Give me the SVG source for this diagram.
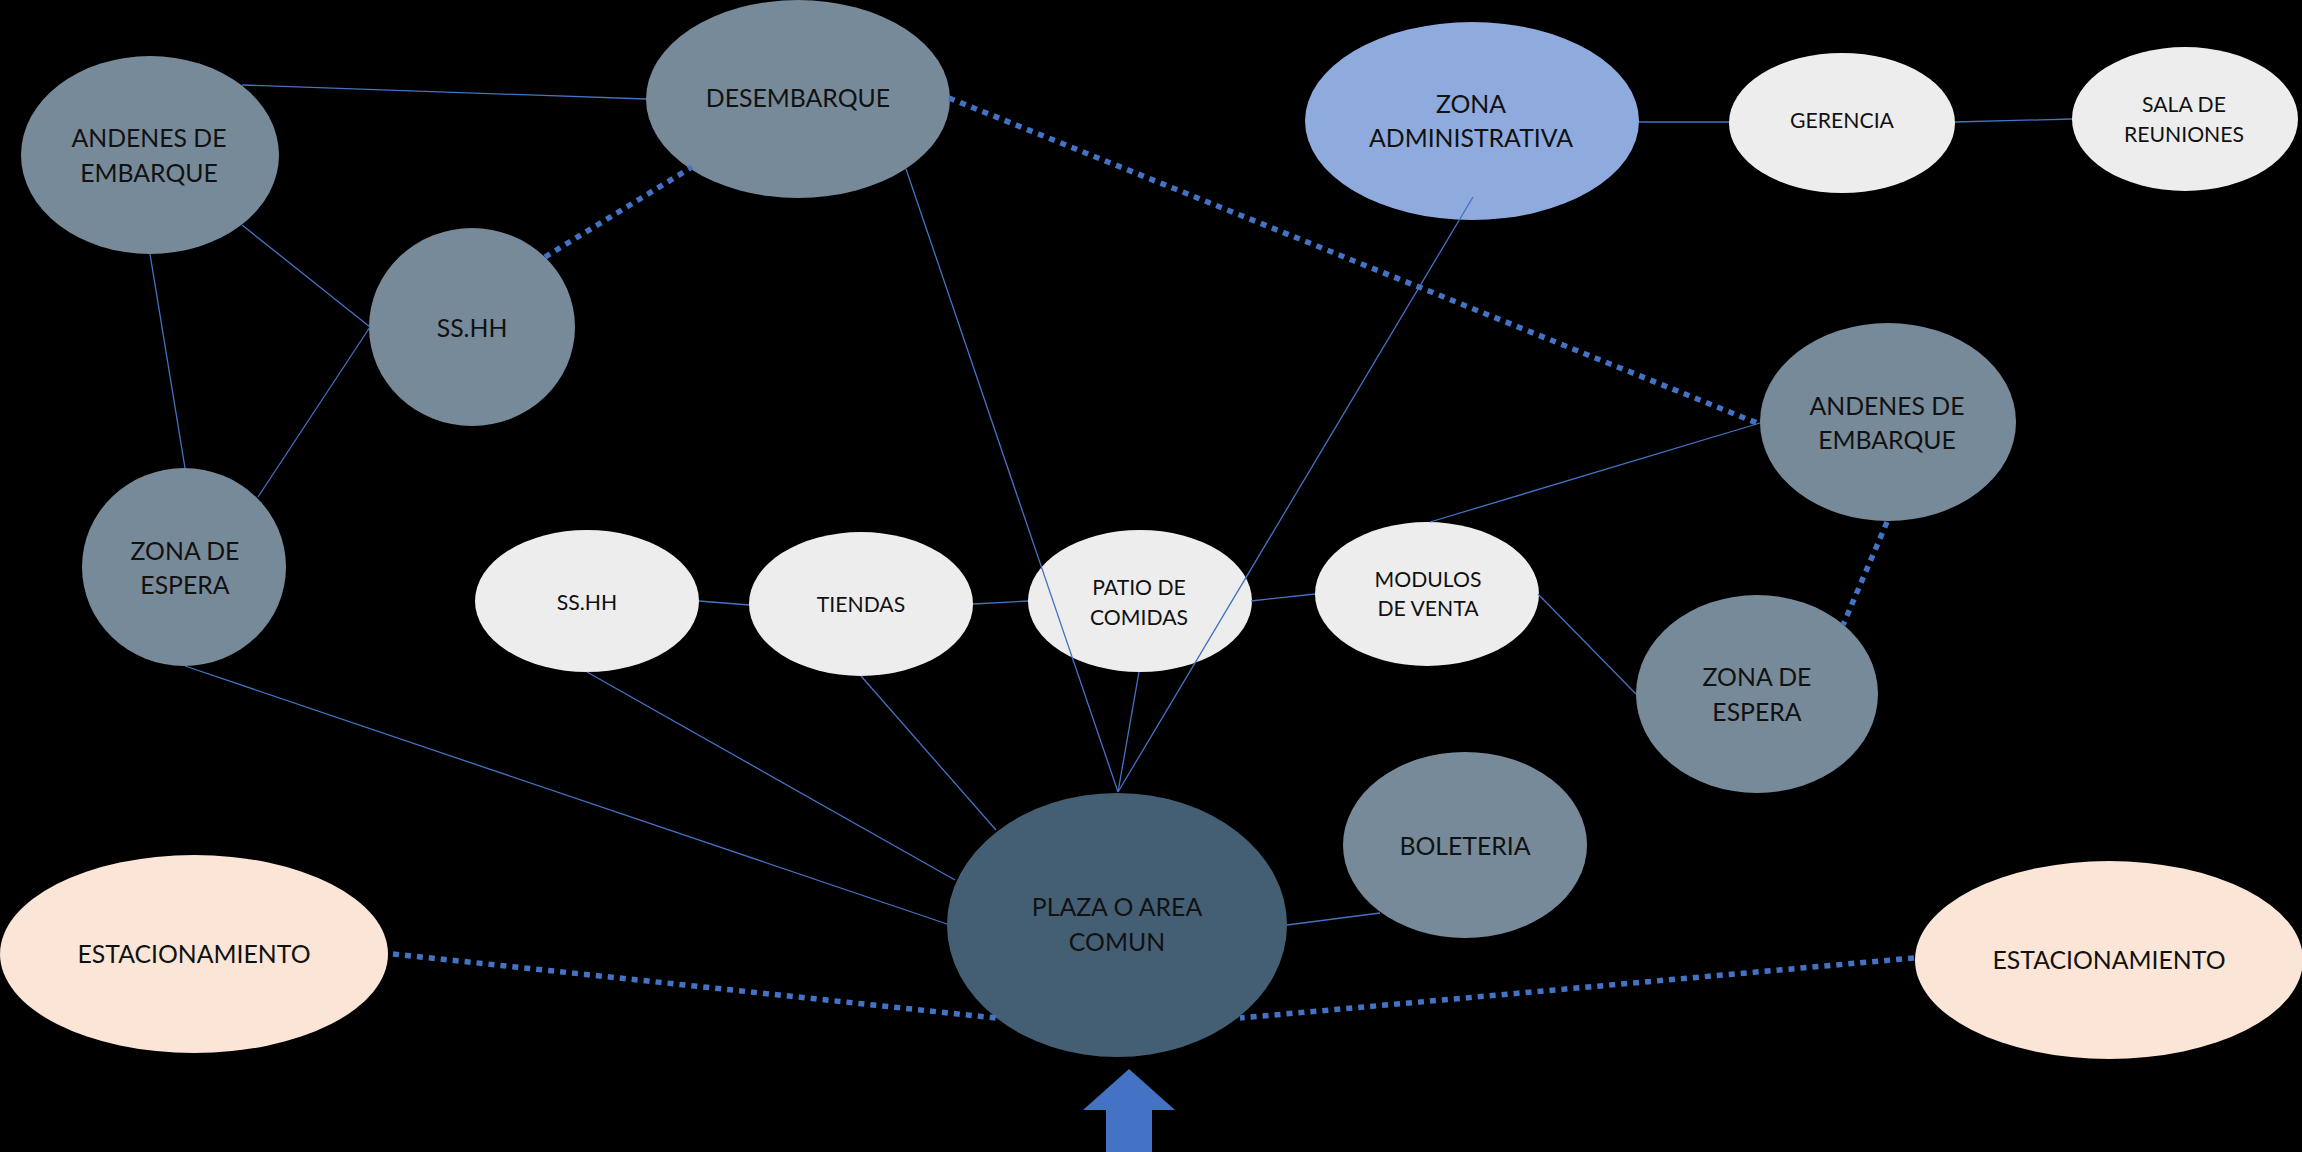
<svg xmlns="http://www.w3.org/2000/svg" width="2302" height="1152" viewBox="0 0 2302 1152">
<style>
.gray{fill:#778A99}
.dark{fill:#445F74}
.light{fill:#EDEDED}
.peach{fill:#FBE5D6}
.admin{fill:#8FAADC}
text{font-family:Lato,"Liberation Sans",sans-serif;fill:#111;text-anchor:middle}
.big{font-size:24.8px}
.small{font-size:21.2px}
.solid{stroke:#4472C4;stroke-width:1.3;fill:none}
.dot{stroke:#4472C4;stroke-width:5.5;stroke-dasharray:6 6;fill:none}
</style>
<rect width="2302" height="1152" fill="#000"/>
<g id="nodes">
<g id="andenes-izq"><ellipse class="gray" cx="150" cy="155" rx="129" ry="99"/><text class="big" x="149" y="147">ANDENES DE</text><text class="big" x="149" y="182">EMBARQUE</text></g>
<g id="sshh-gris"><ellipse class="gray" cx="472" cy="327" rx="103" ry="99"/><text class="big" x="472" y="337">SS.HH</text></g>
<g id="desembarque"><ellipse class="gray" cx="798" cy="99" rx="152" ry="99"/><text class="big" x="798" y="107">DESEMBARQUE</text></g>
<g id="zona-admin"><ellipse class="admin" cx="1472" cy="121" rx="167" ry="99"/><text class="big" x="1471" y="113">ZONA</text><text class="big" x="1471" y="147">ADMINISTRATIVA</text></g>
<g id="gerencia"><ellipse class="light" cx="1842" cy="123" rx="113" ry="70"/><text class="small" x="1842" y="128">GERENCIA</text></g>
<g id="sala"><ellipse class="light" cx="2185" cy="119" rx="113" ry="72"/><text class="small" x="2184" y="112">SALA DE</text><text class="small" x="2184" y="142">REUNIONES</text></g>
<g id="andenes-der"><ellipse class="gray" cx="1888" cy="422" rx="128" ry="99"/><text class="big" x="1887" y="415">ANDENES DE</text><text class="big" x="1887" y="449">EMBARQUE</text></g>
<g id="zona-espera-izq"><ellipse class="gray" cx="184" cy="567" rx="102" ry="99"/><text class="big" x="185" y="560">ZONA DE</text><text class="big" x="185" y="594">ESPERA</text></g>
<g id="sshh-blanco"><ellipse class="light" cx="587" cy="601" rx="112" ry="71"/><text class="small" x="587" y="610">SS.HH</text></g>
<g id="tiendas"><ellipse class="light" cx="861" cy="604" rx="112" ry="72"/><text class="small" x="861" y="612">TIENDAS</text></g>
<g id="patio"><ellipse class="light" cx="1140" cy="601" rx="112" ry="71"/><text class="small" x="1139" y="595">PATIO DE</text><text class="small" x="1139" y="625">COMIDAS</text></g>
<g id="modulos"><ellipse class="light" cx="1427" cy="594" rx="112" ry="72"/><text class="small" x="1428" y="587">MODULOS</text><text class="small" x="1428" y="616">DE VENTA</text></g>
<g id="zona-espera-der"><ellipse class="gray" cx="1757" cy="694" rx="121" ry="99"/><text class="big" x="1757" y="686">ZONA DE</text><text class="big" x="1757" y="721">ESPERA</text></g>
<g id="boleteria"><ellipse class="gray" cx="1465" cy="845" rx="122" ry="93"/><text class="big" x="1465" y="855">BOLETERIA</text></g>
<g id="plaza"><ellipse class="dark" cx="1117" cy="925" rx="170" ry="132"/><text class="big" x="1117" y="916">PLAZA O AREA</text><text class="big" x="1117" y="951">COMUN</text></g>
<g id="estacionamiento-izq"><ellipse class="peach" cx="194" cy="954" rx="194" ry="99"/><text class="big" x="194" y="963">ESTACIONAMIENTO</text></g>
<g id="estacionamiento-der"><ellipse class="peach" cx="2109" cy="960" rx="194" ry="99"/><text class="big" x="2109" y="969">ESTACIONAMIENTO</text></g>
<g id="acceso"><polygon fill="#4472C4" points="1129,1069 1175,1110 1152,1110 1152,1152 1106,1152 1106,1110 1083,1110"/></g>
</g>
<g id="connectors">
<line class="solid" x1="242" y1="85" x2="646" y2="99"/>
<line class="solid" x1="242" y1="225" x2="370" y2="327"/>
<line class="solid" x1="150" y1="254" x2="185" y2="468"/>
<line class="solid" x1="370" y1="327" x2="258" y2="497"/>
<line class="solid" x1="185" y1="666" x2="947" y2="924"/>
<line class="solid" x1="587" y1="672" x2="955" y2="880"/>
<line class="solid" x1="861" y1="676" x2="996" y2="830"/>
<line class="solid" x1="1139" y1="672" x2="1118" y2="792"/>
<line class="solid" x1="906" y1="169" x2="1118" y2="792"/>
<line class="solid" x1="1473" y1="197" x2="1118" y2="792"/>
<line class="solid" x1="699" y1="601" x2="749" y2="605"/>
<line class="solid" x1="973" y1="604" x2="1028" y2="601"/>
<line class="solid" x1="1251" y1="601" x2="1315" y2="594"/>
<line class="solid" x1="1430" y1="522" x2="1760" y2="423"/>
<line class="solid" x1="1538" y1="594" x2="1636" y2="694"/>
<line class="solid" x1="1287" y1="925" x2="1380" y2="913"/>
<line class="solid" x1="1639" y1="122" x2="1729" y2="122"/>
<line class="solid" x1="1955" y1="122" x2="2072" y2="119"/>
<line class="dot" x1="545" y1="257" x2="692" y2="167"/>
<line class="dot" x1="949" y1="98" x2="1757" y2="423"/>
<line class="dot" x1="1887" y1="522" x2="1843" y2="625"/>
<line class="dot" x1="393" y1="954" x2="996" y2="1018"/>
<line class="dot" x1="1914" y1="958" x2="1240" y2="1018"/>
</g>
</svg>
